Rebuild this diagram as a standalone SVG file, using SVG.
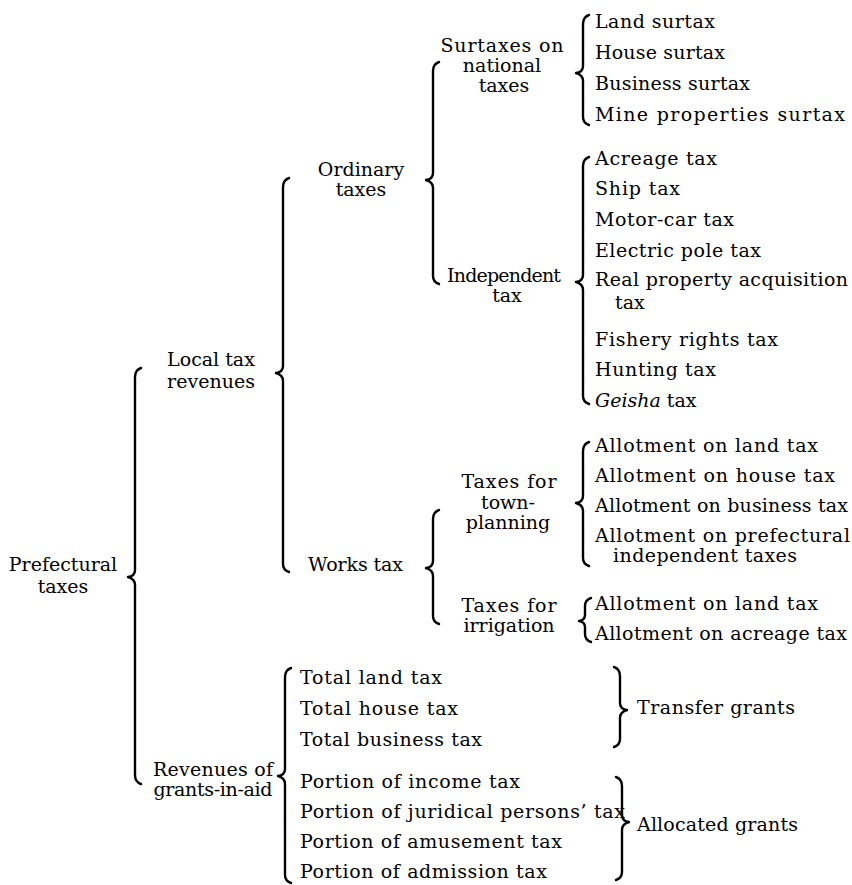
<svg xmlns="http://www.w3.org/2000/svg" width="852" height="885" viewBox="0 0 852 885">
<style>
text{font-family:"DejaVu Serif","Liberation Serif",serif;font-size:19px;fill:#000}
.m{text-anchor:middle}
.b{fill:none;stroke:#000;stroke-width:2.4;stroke-linecap:round;stroke-linejoin:round}
</style>
<rect width="852" height="885" fill="#fff"/>
<g id="connectors">
<path class="b" d="M141,368 Q135,370 135,377 L135,570 Q135,576 128,577 Q135,579 135,585 L135,775 Q135,782 141,784"/>
<path class="b" d="M289,178 Q283,180 283,187 L283,366 Q283,372 276,373 Q283,375 283,381 L283,564 Q283,570 289,572"/>
<path class="b" d="M439,62 Q433,64 433,71 L433,173 Q433,179 426,180 Q433,182 433,188 L433,276 Q433,282 439,284"/>
<path class="b" d="M589,15 Q583,17 583,24 L583,66 Q583,72 576,73 Q583,75 583,81 L583,117 Q583,123 589,125"/>
<path class="b" d="M589,157 Q583,159 583,166 L583,275 Q583,281 576,282 Q583,284 583,290 L583,396 Q583,402 589,404"/>
<path class="b" d="M439,510 Q433,512 433,519 L433,561 Q433,567 426,568 Q433,570 433,576 L433,616 Q433,622 439,624"/>
<path class="b" d="M589,442 Q583,444 583,451 L583,496 Q583,502 576,503 Q583,505 583,511 L583,558 Q583,564 589,566"/>
<path class="b" d="M591,598 Q585,600 585,606 L585,615 Q585,620 579,621 Q585,622 585,627 L585,634 Q585,640 591,642"/>
<path class="b" d="M291,668 Q285,670 285,677 L285,769 Q285,775 278,776 Q285,778 285,784 L285,875 Q285,881 291,883"/>
<path class="b" d="M614,667 Q620,669 620,676 L620,703 Q620,709 627,710 Q620,712 620,718 L620,739 Q620,745 614,747"/>
<path class="b" d="M616,777 Q622,779 622,786 L622,815 Q622,821 629,822 Q622,824 622,830 L622,872 Q622,878 616,880"/>
</g>
<g id="n-prefectural"><text class="m" x="63" y="571">Prefectural</text><text class="m" x="63" y="593">taxes</text></g>
<g id="n-local"><text class="m" x="211" y="366">Local tax</text><text class="m" x="211" y="388">revenues</text></g>
<g id="n-grants"><text class="m" x="213" y="776" textLength="120">Revenues of</text><text class="m" x="213" y="796" textLength="119">grants-in-aid</text></g>
<g id="n-ordinary"><text class="m" x="361" y="176">Ordinary</text><text class="m" x="361" y="196">taxes</text></g>
<g id="n-works"><text x="308" y="571" textLength="95">Works tax</text></g>
<g id="n-surtaxes"><text class="m" x="502" y="52" textLength="123">Surtaxes on</text><text class="m" x="502" y="72">national</text><text class="m" x="504" y="92">taxes</text></g>
<g id="n-independent"><text class="m" x="504" y="282" textLength="114">Independent</text><text class="m" x="507" y="302">tax</text></g>
<g id="n-townplanning"><text class="m" x="509" y="488" textLength="95">Taxes for</text><text class="m" x="508" y="509">town-</text><text class="m" x="508" y="529">planning</text></g>
<g id="n-irrigation"><text class="m" x="509" y="612" textLength="95">Taxes for</text><text class="m" x="509" y="632">irrigation</text></g>
<g id="n-surtax-items">
<text x="595" y="28" textLength="120">Land surtax</text>
<text x="595" y="59" textLength="130">House surtax</text>
<text x="595" y="90" textLength="155">Business surtax</text>
<text x="595" y="121" textLength="250">Mine properties surtax</text>
</g>
<g id="n-independent-items">
<text x="595" y="165" textLength="122">Acreage tax</text>
<text x="595" y="195" textLength="85">Ship tax</text>
<text x="595" y="226" textLength="139">Motor-car tax</text>
<text x="595" y="257" textLength="166">Electric pole tax</text>
<text x="595" y="286" textLength="253">Real property acquisition</text>
<text x="615" y="309">tax</text>
<text x="595" y="346" textLength="183">Fishery rights tax</text>
<text x="595" y="376" textLength="121">Hunting tax</text>
<text x="595" y="407"><tspan font-style="italic">Geisha</tspan> tax</text>
</g>
<g id="n-townplanning-items">
<text x="595" y="452" textLength="223">Allotment on land tax</text>
<text x="595" y="482" textLength="240">Allotment on house tax</text>
<text x="595" y="512" textLength="253">Allotment on business tax</text>
<text x="595" y="542" textLength="255">Allotment on prefectural</text>
<text x="613" y="562" textLength="184">independent taxes</text>
</g>
<g id="n-irrigation-items">
<text x="595" y="610" textLength="223">Allotment on land tax</text>
<text x="595" y="640" textLength="252">Allotment on acreage tax</text>
</g>
<g id="n-transfer-items">
<text x="300" y="684" textLength="142">Total land tax</text>
<text x="300" y="715" textLength="158">Total house tax</text>
<text x="300" y="746" textLength="182">Total business tax</text>
</g>
<g id="n-allocated-items">
<text x="300" y="788" textLength="220">Portion of income tax</text>
<text x="300" y="818" textLength="325">Portion of juridical persons’ tax</text>
<text x="300" y="848" textLength="262">Portion of amusement tax</text>
<text x="300" y="878" textLength="247">Portion of admission tax</text>
</g>
<g id="n-transfer"><text x="637" y="714" textLength="158">Transfer grants</text></g>
<g id="n-allocated"><text x="637" y="831" textLength="161">Allocated grants</text></g>
</svg>
